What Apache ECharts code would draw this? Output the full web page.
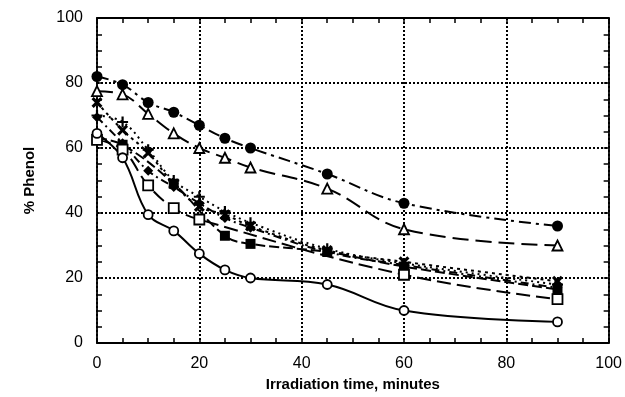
<!DOCTYPE html>
<html>
<head>
<meta charset="utf-8">
<script src="https://cdn.jsdelivr.net/npm/echarts@6/dist/echarts.min.js"></script>
<style>
html,body{margin:0;padding:0;background:#fff;}
#chart{width:625px;height:397px;}
</style>
</head>
<body>
<div id="chart"></div>
<script>
var times = [0, 5, 10, 15, 20, 25, 30, 45, 60, 90];
var filledCircle = [82, 79.5, 74, 71, 67, 63, 60, 52, 43, 36];
var openTriangle = [77.5, 76.5, 70.5, 64.5, 60, 57, 54, 47.5, 35, 30];
var crossX = [74, 65.5, 58.5, 49, 42, 39.5, 36, 28.5, 25, 19];
var plus = [70, 68, 59.5, 50, 45, 40.5, 37, 29, 24.5, 18];
var filledDiamond = [69.5, 61.5, 53, 48, 43, 38.5, 35.5, 28, 24, 17];
var filledSquare = [63, 61, null, 49, null, 33, 30.5, 28, 23.5, 16.5];
var openSquare = [62.5, 59.5, 48.5, 41.5, 38, null, null, null, 21, 13.5];
var openCircle = [64.5, 57, 39.5, 34.5, 27.5, 22.5, 20, 18, 10, 6.5];

var xTicks = [0, 20, 40, 60, 80, 100];
var yTicks = [0, 20, 40, 60, 80, 100];

function pairs(vals){
  var out = [];
  for (var i = 0; i < times.length; i++) {
    if (vals[i] !== null) out.push([times[i], vals[i]]);
  }
  return out;
}

var XPATH = 'path://M0,2 L2,0 L5,3 L8,0 L10,2 L7,5 L10,8 L8,10 L5,7 L2,10 L0,8 L3,5 Z';
var PLUSPATH = 'path://M4,0 H6 V4 H10 V6 H6 V10 H4 V6 H0 V4 H4 Z';

function mk(name, vals, symbol, size, filled, dash){
  return {
    name: name, type: 'line', data: pairs(vals), smooth: 0.4,
    symbol: symbol, symbolSize: size, connectNulls: true,
    itemStyle: filled ? {color: '#000', borderColor: '#000', borderWidth: 0}
                      : {color: '#fff', borderColor: '#000', borderWidth: 1.8},
    lineStyle: {color: '#000', width: 2, type: dash},
    z: 3
  };
}

var fontFam = '"Liberation Sans", Arial, Helvetica, sans-serif';

var axisCommon = {
  type: 'value', min: 0, max: 100, interval: 20,
  axisLine: {show: true, onZero: false, lineStyle: {color: '#000', width: 1.8}},
  axisTick: {show: true, inside: true, length: 5, lineStyle: {color: '#000', width: 1.5}},
  minorTick: {show: true, splitNumber: 4, length: 5, lineStyle: {color: '#000', width: 1.5}}
};

function ax(extra){ return Object.assign({}, JSON.parse(JSON.stringify(axisCommon)), extra); }

var chart = echarts.init(document.getElementById('chart'), null, {renderer: 'canvas'});
chart.setOption({
  animation: false,
  backgroundColor: '#fff',
  grid: {left: 97, right: 16, top: 18, bottom: 54, containLabel: false},
  xAxis: [
    ax({position: 'bottom',
      name: 'Irradiation time, minutes', nameLocation: 'middle', nameGap: 34,
      nameTextStyle: {fontFamily: fontFam, fontWeight: 'bold', fontSize: 15, color: '#000'},
      axisLabel: {show: true, margin: 13, fontFamily: fontFam, fontSize: 16, color: '#000',
        formatter: function(v){ return xTicks.indexOf(v) >= 0 ? String(v) : ''; }},
      splitLine: {show: true, lineStyle: {color: '#000', width: 2, type: [2, 2]}}
    }),
    ax({position: 'top', axisLabel: {show: false}, splitLine: {show: false}})
  ],
  yAxis: [
    ax({position: 'left',
      name: '% Phenol', nameLocation: 'middle', nameGap: 60, nameRotate: 90,
      nameTextStyle: {fontFamily: fontFam, fontWeight: 'bold', fontSize: 15, color: '#000'},
      axisLabel: {show: true, margin: 14, fontFamily: fontFam, fontSize: 16, color: '#000',
        formatter: function(v){ return yTicks.indexOf(v) >= 0 ? String(v) : ''; }},
      splitLine: {show: true, lineStyle: {color: '#000', width: 2, type: [2, 2]}}
    }),
    ax({position: 'right', axisLabel: {show: false}, splitLine: {show: false}})
  ],
  series: [
    mk('filled circle', filledCircle, 'circle', 11, true, [12, 5, 3, 5]),
    mk('open triangle', openTriangle, 'triangle', 10, false, [16, 7]),
    mk('cross', crossX, XPATH, 11, true, [3, 4]),
    mk('plus', plus, PLUSPATH, 11, true, [2, 4]),
    mk('filled diamond', filledDiamond, 'diamond', 10, true, [8, 4, 2, 4]),
    mk('filled square', filledSquare, 'rect', 10, true, [10, 4]),
    mk('open square', openSquare, 'rect', 10, false, [14, 6]),
    mk('open circle', openCircle, 'circle', 9, false, 'solid')
  ]
});
</script>
</body>
</html>
